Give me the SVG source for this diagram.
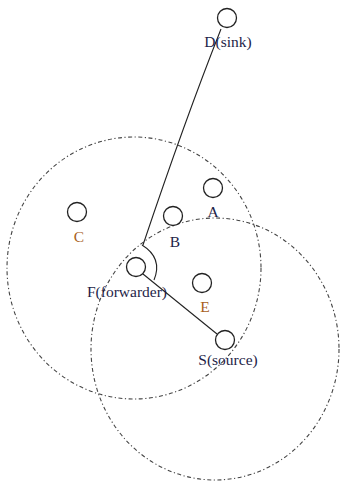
<svg xmlns="http://www.w3.org/2000/svg" width="342" height="483" viewBox="0 0 342 483">
<style>
.range{fill:none;stroke:#444;stroke-width:1.1;stroke-dasharray:4 2.5 1.2 2.5}
.node{fill:#fff;stroke:#222;stroke-width:1.3}
.edge{fill:none;stroke:#222;stroke-width:1.1}
.lbl{font-family:"Liberation Serif","Times New Roman",serif;font-size:15.5px;fill:#1e1e48;text-anchor:middle}
.or{fill:#a8601c}
</style>
<rect width="342" height="483" fill="#fff"/>
<g id="ranges">
<ellipse class="range" cx="134" cy="268" rx="127" ry="131"/>
<ellipse class="range" cx="215" cy="349" rx="124" ry="131"/>
</g>
<g id="connectors">
<path class="edge" d="M221,29 Q185,120 143,245"/>
<path class="edge" d="M142,245 Q163,258 154,280"/>
<path class="edge" d="M143,274 L217,334"/>
</g>
<g id="D"><circle class="node" cx="227" cy="18" r="9.5"/><text class="lbl" x="228" y="47">D(sink)</text></g>
<g id="A"><circle class="node" cx="213" cy="188" r="9.5"/><text class="lbl" x="213" y="217">A</text></g>
<g id="C"><circle class="node" cx="77" cy="212" r="9.5"/><text class="lbl or" x="79" y="242">C</text></g>
<g id="B"><circle class="node" cx="173" cy="216" r="9.5"/><text class="lbl" x="175" y="247">B</text></g>
<g id="F"><circle class="node" cx="136" cy="267" r="9.5"/><text class="lbl" x="127" y="297">F(forwarder)</text></g>
<g id="E"><circle class="node" cx="202" cy="283" r="9.5"/><text class="lbl or" x="205" y="312">E</text></g>
<g id="S"><circle class="node" cx="225" cy="340" r="9.5"/><text class="lbl" x="228" y="365">S(source)</text></g>
</svg>
